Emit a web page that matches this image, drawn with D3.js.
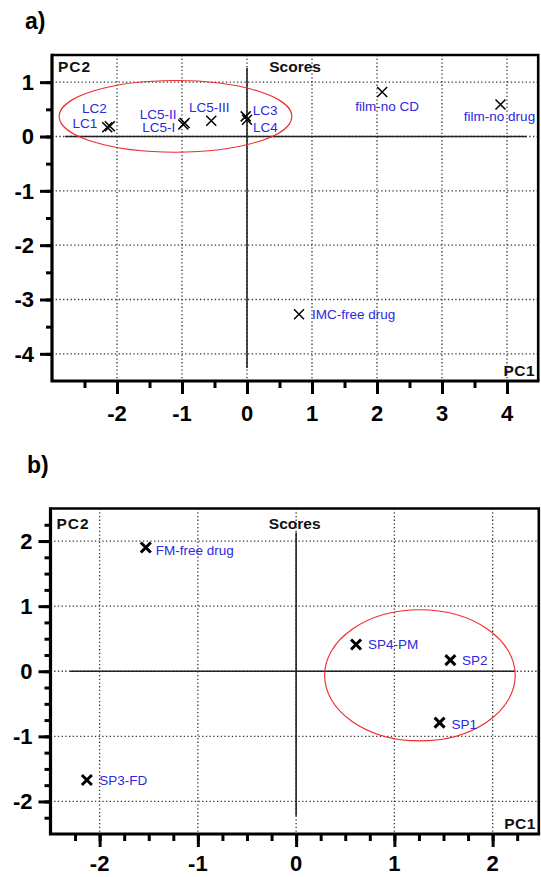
<!DOCTYPE html>
<html>
<head>
<meta charset="utf-8">
<script src="https://cdn.jsdelivr.net/npm/d3@7"></script>
<style>
  body { margin: 0; background: #fff; }
  svg { display: block; font-family: "Liberation Sans", Arial, sans-serif; }
  .grid line { stroke: #333; stroke-width: 1.3; stroke-dasharray: 1.3,2.4; }
  .zero { stroke: #222; stroke-width: 1.6; }
  .tick-label { font-weight: bold; font-size: 22px; fill: #000; }
  .pt-label { font-size: 13.5px; fill: #2a2ade; }
  .corner { font-weight: bold; font-size: 15.5px; fill: #111; }
</style>
</head>
<body>
<svg id="chart" width="541" height="877"></svg>
<script>
// ---- panel a data ----
const aNames = ["LC1", "LC2", "LC5-I", "LC5-II", "LC5-III", "LC3", "LC4", "film-no CD", "film-no drug", "IMC-free drug"];
const aPC1 = [-2.15, -2.11, -0.98, -0.96, -0.55, -0.02, 0.0, 2.08, 3.9, 0.8];
const aPC2 = [0.17, 0.19, 0.22, 0.25, 0.29, 0.37, 0.31, 0.82, 0.59, -3.27];
const aXTicks = [-2, -1, 0, 1, 2, 3, 4];
const aYTicks = [1, 0, -1, -2, -3, -4];
const aEllipse = { cx: -1.1, cy: 0.37, rx: 1.79, ry: 0.66 };

// ---- panel b data ----
const bNames = ["FM-free drug", "SP4-PM", "SP2", "SP1", "SP3-FD"];
const bPC1 = [-1.53, 0.61, 1.57, 1.46, -2.13];
const bPC2 = [1.9, 0.41, 0.17, -0.79, -1.67];
const bXTicks = [-2, -1, 0, 1, 2];
const bYTicks = [2, 1, 0, -1, -2];
const bEllipse = { cx: 1.26, cy: -0.063, rx: 0.97, ry: 1.007 };

// label placement: dx, dy (to text centre), anchor
const labelPos = {
  "LC1": [-10, -3.7, "end"],
  "LC2": [-3, -18, "end"],
  "LC5-I": [-8, 3, "end"],
  "LC5-II": [-8, -9, "end"],
  "LC5-III": [-2, -14, "middle"],
  "LC3": [7, -6, "start"],
  "LC4": [6, 7, "start"],
  "film-no CD": [5, 14, "middle"],
  "film-no drug": [-1, 12, "middle"],
  "IMC-free drug": [13, 0, "start"],
  "FM-free drug": [10, 3, "start"],
  "SP4-PM": [12, 0, "start"],
  "SP2": [11.5, 0, "start"],
  "SP1": [12, 1, "start"],
  "SP3-FD": [12.5, 0, "start"]
};

const svg = d3.select("#chart");

function drawPanel(p) {
  const x = d3.scaleLinear().domain(p.xDomain).range([p.left, p.right]);
  const y = d3.scaleLinear().domain(p.yDomain).range([p.bottom, p.top]);
  const g = svg.append("g");

  // panel letter
  g.append("text").attr("x", p.letterX).attr("y", p.letterY)
    .attr("font-size", 23).attr("font-weight", "bold").text(p.letter);

  // dotted grid
  const grid = g.append("g").attr("class", "grid");
  grid.selectAll(".gx").data(p.xTicks).join("line")
    .attr("x1", d => x(d)).attr("x2", d => x(d))
    .attr("y1", p.top).attr("y2", p.bottom);
  grid.selectAll(".gy").data(p.yTicks).join("line")
    .attr("x1", p.left).attr("x2", p.right)
    .attr("y1", d => y(d)).attr("y2", d => y(d));

  // solid zero lines
  g.append("line").attr("class", "zero")
    .attr("x1", x(p.hLine[0])).attr("x2", x(p.hLine[1]))
    .attr("y1", y(0)).attr("y2", y(0));
  g.append("line").attr("class", "zero")
    .attr("x1", x(0)).attr("x2", x(0))
    .attr("y1", y(p.vLine[0])).attr("y2", y(p.vLine[1]));

  // ellipse
  const e = p.ellipse;
  g.append("ellipse")
    .attr("cx", x(e.cx)).attr("cy", y(e.cy))
    .attr("rx", x(e.cx + e.rx) - x(e.cx)).attr("ry", y(e.cy) - y(e.cy + e.ry))
    .attr("fill", "none").attr("stroke", "#ee2a2a").attr("stroke-width", 1.1);

  // frame: top and right
  g.append("path")
    .attr("d", `M${p.left},${p.top}H${p.right}V${p.bottom}`)
    .attr("fill", "none").attr("stroke", "#000").attr("stroke-width", 2.6);

  // axes
  const xMinor = d3.range(p.xDomain[0], p.xDomain[1] + 1e-9, p.xMinor)
    .filter(v => v > p.xDomain[0] + 1e-9);
  const yMinor = d3.range(p.yDomain[0], p.yDomain[1] + 1e-9, p.yMinor)
    .filter(v => v > p.yDomain[0] + 1e-9 && v < p.yDomain[1] - 1e-9);

  const xa = g.append("g").attr("transform", `translate(0,${p.bottom})`);
  xa.call(d3.axisBottom(x).tickValues(xMinor).tickSize(7).tickFormat(""));
  xa.append("g").call(d3.axisBottom(x).tickValues(p.xTicks).tickSize(13).tickFormat(""));
  xa.selectAll(".domain").remove();
  xa.selectAll("line").attr("stroke", "#000").attr("stroke-width", 3);

  const ya = g.append("g").attr("transform", `translate(${p.left},0)`);
  ya.call(d3.axisLeft(y).tickValues(yMinor).tickSize(6).tickFormat(""));
  ya.append("g").call(d3.axisLeft(y).tickValues(p.yTicks).tickSize(12).tickFormat(""));
  ya.selectAll(".domain").remove();
  ya.selectAll("line").attr("stroke", "#000").attr("stroke-width", 3);

  // axis lines (thick)
  g.append("path")
    .attr("d", `M${p.left},${p.top - 1.3}V${p.bottom}H${p.right + 1.3}`)
    .attr("fill", "none").attr("stroke", "#000").attr("stroke-width", 3.2);

  // tick labels
  g.selectAll(".xl").data(p.xTicks).join("text")
    .attr("class", "tick-label").attr("text-anchor", "middle")
    .attr("x", d => x(d)).attr("y", p.bottom + p.xLabelOff)
    .text(d => d < 0 ? "-" + Math.abs(d) : d);
  g.selectAll(".yl").data(p.yTicks).join("text")
    .attr("class", "tick-label").attr("text-anchor", "end")
    .attr("x", p.left - 18).attr("y", d => y(d)).attr("dy", "0.36em")
    .text(d => d < 0 ? "-" + Math.abs(d) : d);

  // corner labels
  g.append("text").attr("class", "corner").attr("x", p.left + 6).attr("y", p.pc2Y)
    .attr("dy", "0.36em").attr("letter-spacing", 1).text("PC2");
  g.append("text").attr("class", "corner").attr("x", (p.left + p.right) / 2).attr("y", p.pc2Y)
    .attr("dy", "0.36em").attr("text-anchor", "middle").text("Scores");
  g.append("text").attr("class", "corner").attr("x", p.right - 3).attr("y", p.bottom - 10.5)
    .attr("dy", "0.36em").attr("text-anchor", "end").attr("letter-spacing", 0.5).text("PC1");

  // points
  const pts = p.names.map((n, i) => ({ name: n, px: p.pc1[i], py: p.pc2[i] }));
  const h = p.markerHalf;
  g.selectAll(".mk").data(pts).join("path")
    .attr("transform", d => `translate(${x(d.px)},${y(d.py)})`)
    .attr("d", `M${-h},${-h}L${h},${h}M${-h},${h}L${h},${-h}`)
    .attr("stroke", "#000").attr("stroke-width", p.markerWidth).attr("fill", "none");

  g.selectAll(".lb").data(pts).join("text")
    .attr("class", "pt-label")
    .attr("x", d => x(d.px) + labelPos[d.name][0])
    .attr("y", d => y(d.py) + labelPos[d.name][1])
    .attr("dy", "0.36em")
    .attr("text-anchor", d => labelPos[d.name][2])
    .text(d => d.name);
}

drawPanel({
  letter: "a)", letterX: 25, letterY: 29,
  left: 52, right: 538.2, top: 55, bottom: 381, xLabelOff: 40,
  xDomain: [-3, 4.48], yDomain: [-4.5, 1.5],
  xTicks: aXTicks, yTicks: aYTicks, xMinor: 0.5, yMinor: 0.5,
  hLine: [-2.8, 4.3], vLine: [1.26, -4.26],
  ellipse: aEllipse, pc2Y: 66,
  names: aNames, pc1: aPC1, pc2: aPC2,
  markerHalf: 5, markerWidth: 1.5
});

drawPanel({
  letter: "b)", letterX: 27, letterY: 473,
  left: 50.5, right: 538.8, top: 508.5, bottom: 834, xLabelOff: 37,
  xDomain: [-2.5, 2.47], yDomain: [-2.5, 2.5],
  xTicks: bXTicks, yTicks: bYTicks, xMinor: 0.25, yMinor: 0.25,
  hLine: [-2.3, 2.23], vLine: [2.13, -2.22],
  ellipse: bEllipse, pc2Y: 523,
  names: bNames, pc1: bPC1, pc2: bPC2,
  markerHalf: 5, markerWidth: 3
});
</script>
</body>
</html>
